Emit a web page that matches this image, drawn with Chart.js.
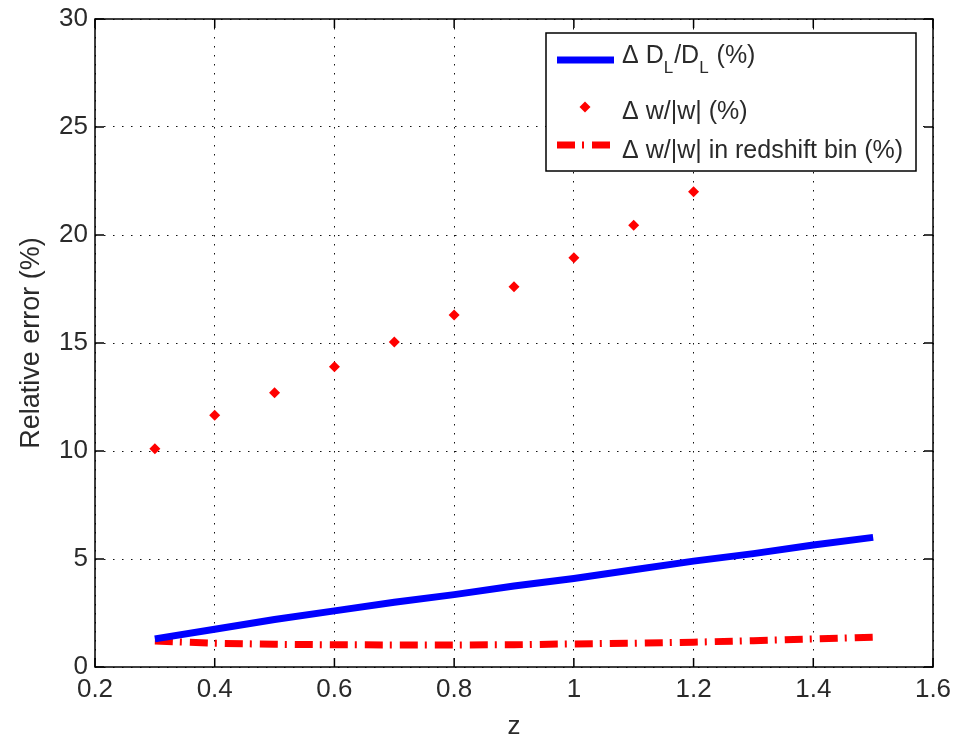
<!DOCTYPE html>
<html>
<head>
<meta charset="utf-8">
<title>Relative error vs redshift</title>
<script src="https://cdn.jsdelivr.net/npm/chart.js@4.4.1/dist/chart.umd.min.js"></script>
<style>
    html, body { margin: 0; padding: 0; background: #fff; }
</style>
</head>
<body>
<canvas id="error-chart" width="953" height="740"></canvas>
<script>
// redshift grid of the continuous curves
const zLine = [0.3, 0.4, 0.5, 0.6, 0.7, 0.8, 0.9, 1.0, 1.1, 1.2, 1.3, 1.4, 1.5];
const dlError = [1.3, 1.75, 2.2, 2.6, 3.0, 3.35, 3.75, 4.1, 4.5, 4.9, 5.25, 5.65, 6.0];
const wBinError = [1.2, 1.1, 1.05, 1.03, 1.02, 1.02, 1.03, 1.07, 1.1, 1.15, 1.22, 1.3, 1.38];

// individual w estimates
const zPoints = [0.3, 0.4, 0.5, 0.6, 0.7, 0.8, 0.9, 1.0, 1.1, 1.2];
const wError = [10.1, 11.65, 12.7, 13.9, 15.05, 16.3, 17.6, 18.95, 20.45, 22.0];

const seriesLabels = ['Δ D_L/D_L (%)', 'Δ w/|w| (%)', 'Δ w/|w| in redshift bin (%)'];

const xTicks = [0.2, 0.4, 0.6, 0.8, 1, 1.2, 1.4, 1.6];
const xTickLabels = ['0.2', '0.4', '0.6', '0.8', '1', '1.2', '1.4', '1.6'];
const yTicks = [0, 5, 10, 15, 20, 25, 30];
const yTickLabels = ['0', '5', '10', '15', '20', '25', '30'];

const FONT = '"Liberation Sans", Arial, Helvetica, sans-serif';
const TEXT = '#2a2a2a';
const ctx = document.getElementById('error-chart').getContext('2d');

function toPoints(xs, ys) {
    return xs.map((x, i) => ({ x: x, y: ys[i] }));
}

// text with '_X' meaning "X as subscript"
function drawLabel(c, text, x, y) {
    const parts = text.split(/_(.)/);
    for (let i = 0; i < parts.length; i++) {
        const sub = i % 2 === 1;
        c.font = (sub ? '17px ' : '25px ') + FONT;
        c.fillText(parts[i], x, sub ? y + 10 : y);
        x += c.measureText(parts[i]).width + (sub ? 1 : 0);
    }
}

// closed axes box with inward tick marks on all four sides
const frame = {
    id: 'frame',
    afterDatasetsDraw(chart) {
        const { ctx: c, chartArea: a, scales } = chart;
        c.save();
        c.strokeStyle = '#000';
        c.lineWidth = 1.5;
        c.strokeRect(a.left, a.top, a.right - a.left, a.bottom - a.top);
        c.beginPath();
        for (const v of xTicks) {
            const px = scales.x.getPixelForValue(v);
            c.moveTo(px, a.bottom);
            c.lineTo(px, a.bottom - 9);
            c.moveTo(px, a.top);
            c.lineTo(px, a.top + 9);
        }
        for (const v of yTicks) {
            const py = scales.y.getPixelForValue(v);
            c.moveTo(a.left, py);
            c.lineTo(a.left + 9, py);
            c.moveTo(a.right, py);
            c.lineTo(a.right - 9, py);
        }
        c.stroke();
        c.restore();
    }
};

// boxed legend in the upper right corner
const legendBox = {
    id: 'legendBox',
    afterDraw(chart) {
        const { ctx: c, chartArea: a } = chart;
        const w = 370, h = 138;
        const left = a.right - 17 - w;
        const top = a.top + 14;
        const rows = [[27, 30], [74, 86], [112, 125]];

        c.save();
        c.fillStyle = '#fff';
        c.fillRect(left, top, w, h);
        c.strokeStyle = '#000';
        c.lineWidth = 1.5;
        c.strokeRect(left, top, w, h);

        chart.data.datasets.forEach((ds, i) => {
            const sy = top + rows[i][0];
            if (ds.showLine === false) {
                const r = ds.pointRadius;
                c.fillStyle = ds.backgroundColor;
                c.beginPath();
                c.moveTo(left + 39, sy - r);
                c.lineTo(left + 39 + r, sy);
                c.lineTo(left + 39, sy + r);
                c.lineTo(left + 39 - r, sy);
                c.closePath();
                c.fill();
            } else {
                c.strokeStyle = ds.borderColor;
                c.lineWidth = ds.borderWidth;
                c.setLineDash(ds.borderDash || []);
                c.beginPath();
                c.moveTo(left + 11, sy);
                c.lineTo(left + 68, sy);
                c.stroke();
                c.setLineDash([]);
            }
            c.fillStyle = TEXT;
            c.textBaseline = 'alphabetic';
            c.textAlign = 'left';
            drawLabel(c, ds.label, left + 76, top + rows[i][1]);
        });
        c.restore();
    }
};

new Chart(ctx, {
    type: 'line',
    data: {
        datasets: [
            {
                label: seriesLabels[0],
                data: toPoints(zLine, dlError),
                borderColor: '#0000ff',
                borderWidth: 7,
                pointRadius: 0,
                fill: false
            },
            {
                label: seriesLabels[1],
                data: toPoints(zPoints, wError),
                showLine: false,
                backgroundColor: '#ff0000',
                borderColor: '#ff0000',
                pointStyle: 'rectRot',
                pointRadius: 5.5,
                pointBorderWidth: 0
            },
            {
                label: seriesLabels[2],
                data: toPoints(zLine, wBinError),
                borderColor: '#ff0000',
                borderWidth: 7,
                borderDash: [18, 7, 2, 8],
                pointRadius: 0,
                fill: false
            }
        ]
    },
    options: {
        responsive: false,
        animation: false,
        devicePixelRatio: 1,
        layout: {
            padding: { top: 19, right: 20, left: 0, bottom: 0 }
        },
        plugins: {
            legend: { display: false },
            tooltip: { enabled: false }
        },
        scales: {
            x: {
                type: 'linear',
                min: 0.2,
                max: 1.6,
                afterBuildTicks: (scale) => {
                    scale.ticks = xTicks.map(v => ({ value: v }));
                },
                afterFit: (scale) => {
                    scale.height = 73;
                    scale.paddingLeft = 0;
                    scale.paddingRight = 0;
                },
                ticks: {
                    padding: 7,
                    maxRotation: 0,
                    color: TEXT,
                    font: { family: FONT, size: 26 },
                    callback: (value, index) => xTickLabels[index]
                },
                grid: {
                    drawTicks: false,
                    color: '#111',
                    lineWidth: 1
                },
                border: { display: false, dash: [1.5, 7.5] },
                title: {
                    display: true,
                    text: 'z',
                    color: TEXT,
                    padding: { top: 0, bottom: 0 },
                    font: { family: FONT, size: 26, lineHeight: 1 }
                }
            },
            y: {
                min: 0,
                max: 30,
                afterBuildTicks: (scale) => {
                    scale.ticks = yTicks.map(v => ({ value: v }));
                },
                afterFit: (scale) => {
                    scale.width = 95;
                    scale.paddingTop = 0;
                    scale.paddingBottom = 0;
                },
                ticks: {
                    padding: 7,
                    color: TEXT,
                    font: { family: FONT, size: 26 },
                    callback: (value, index) => yTickLabels[index]
                },
                grid: {
                    drawTicks: false,
                    color: '#111',
                    lineWidth: 1
                },
                border: { display: false, dash: [1.5, 7.5] },
                title: {
                    display: true,
                    text: 'Relative error (%)',
                    color: TEXT,
                    padding: { top: 18, bottom: 0 },
                    font: { family: FONT, size: 27, lineHeight: 1 }
                }
            }
        }
    },
    plugins: [frame, legendBox]
});
</script>
</body>
</html>
